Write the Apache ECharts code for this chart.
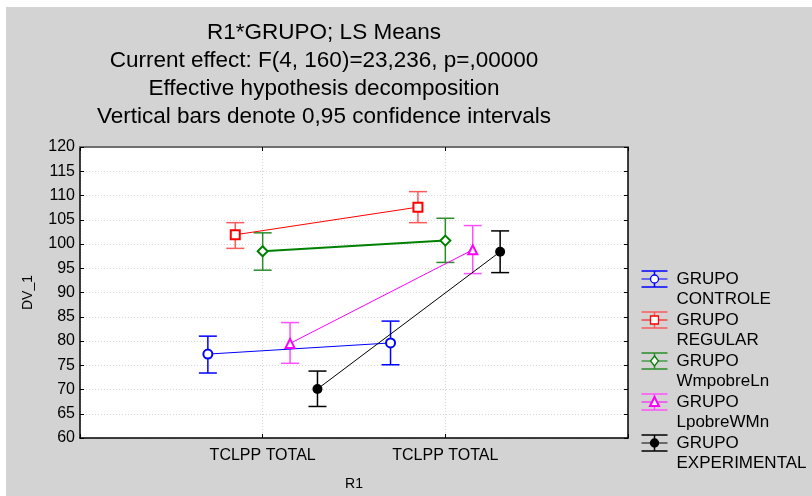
<!DOCTYPE html>
<html>
<head>
<meta charset="utf-8">
<script src="https://cdn.jsdelivr.net/npm/echarts@6/dist/echarts.min.js"></script>
<style>
  html, body { margin: 0; padding: 0; background: #fff; }
  #main { position: absolute; left: 6px; top: 7px; width: 806px; height: 489px; }
</style>
</head>
<body>
<div id="main"></div>
<script>
// dados
var categories = ['TCLPP TOTAL', 'TCLPP TOTAL'];
var groupNames = ['GRUPO\nCONTROLE', 'GRUPO\nREGULAR', 'GRUPO\nWmpobreLn', 'GRUPO\nLpobreWMn', 'GRUPO\nEXPERIMENTAL'];
var yTicks = [60, 120, 5]; // min, max, passo

var controleMean = [77.3, 79.6];
var controleLow = [73.4, 75.1];
var controleHigh = [81.0, 84.1];

var regularMean = [101.9, 107.6];
var regularLow = [99.1, 104.4];
var regularHigh = [104.4, 110.8];

var wmpobreMean = [98.5, 100.7];
var wmpobreLow = [94.6, 96.2];
var wmpobreHigh = [102.3, 105.3];

var lpobreMean = [79.5, 98.8];
var lpobreLow = [75.4, 93.9];
var lpobreHigh = [83.8, 103.8];

var experimentalMean = [70.1, 98.4];
var experimentalLow = [66.5, 94.1];
var experimentalHigh = [73.8, 102.7];

var means = [controleMean, regularMean, wmpobreMean, lpobreMean, experimentalMean];
var lows = [controleLow, regularLow, wmpobreLow, lpobreLow, experimentalLow];
var highs = [controleHigh, regularHigh, wmpobreHigh, lpobreHigh, experimentalHigh];

// estilo
var colors = ['#0000ff', '#ff0000', '#008000', '#ff00ff', '#000000'];
var barColors = ['#0000ff', '#ff5a5a', '#2a8c2a', '#ff50ff', '#000000'];
var symbols = ['emptyCircle', 'emptyRect', 'emptyDiamond', 'emptyTriangle', 'circle'];
var symbolSizes = [9, 9, 10, 9, 10];
var lineWidths = [1, 1, 2, 1, 1];
var offsets = [-0.3, -0.15, 0, 0.15, 0.3];
var font = 'Liberation Sans, Arial, sans-serif';

var series = [];
for (var g = 0; g < means.length; g++) {
    var pts = [], bars = [];
    for (var c = 0; c < categories.length; c++) {
        pts.push([c + 1 + offsets[g], means[g][c]]);
        bars.push([c + 1 + offsets[g], lows[g][c], highs[g][c]]);
    }
    series.push({
        type: 'custom',
        name: groupNames[g],
        data: bars,
        z: 3,
        silent: true,
        renderItem: (function (col) {
            return function (params, api) {
                var x = api.value(0);
                var p0 = api.coord([x, api.value(1)]);
                var p1 = api.coord([x, api.value(2)]);
                var st = { stroke: col, lineWidth: 1.5 };
                return {
                    type: 'group',
                    children: [
                        { type: 'line', shape: { x1: p0[0], y1: p0[1], x2: p1[0], y2: p1[1] }, style: st },
                        { type: 'line', shape: { x1: p0[0] - 9, y1: p0[1], x2: p0[0] + 9, y2: p0[1] }, style: st },
                        { type: 'line', shape: { x1: p1[0] - 9, y1: p1[1], x2: p1[0] + 9, y2: p1[1] }, style: st }
                    ]
                };
            };
        })(barColors[g])
    });
    series.push({
        type: 'line',
        name: groupNames[g],
        data: pts,
        z: 4,
        symbol: symbols[g],
        symbolSize: symbolSizes[g],
        showAllSymbol: true,
        animation: false,
        lineStyle: { color: colors[g], width: lineWidths[g] },
        itemStyle: { color: colors[g], borderWidth: g === 3 ? 2 : 1.3 }
    });
}

// legenda desenhada à mão (ícone de barra de erro + marcador)
var legend = [];
for (var i = 0; i < groupNames.length; i++) {
    var cx = 648.5, cy = 272 + 41 * i, col = colors[i];
    legend.push({ type: 'line', shape: { x1: cx - 13, y1: cy - 8, x2: cx + 13, y2: cy - 8 }, style: { stroke: barColors[i], lineWidth: 1.5 } });
    legend.push({ type: 'line', shape: { x1: cx - 13, y1: cy + 8, x2: cx + 13, y2: cy + 8 }, style: { stroke: barColors[i], lineWidth: 1.5 } });
    legend.push({ type: 'line', shape: { x1: cx, y1: cy - 8, x2: cx, y2: cy + 8 }, style: { stroke: barColors[i], lineWidth: 1.5 } });
    legend.push({ type: 'line', shape: { x1: cx - 13, y1: cy, x2: cx + 13, y2: cy }, style: { stroke: col, lineWidth: 1 } });
    var fill = i === 4 ? col : '#fff';
    var mk;
    if (i === 0 || i === 4) {
        mk = { type: 'circle', shape: { cx: cx, cy: cy, r: 4 } };
    } else if (i === 1) {
        mk = { type: 'rect', shape: { x: cx - 4, y: cy - 4, width: 8, height: 8 } };
    } else if (i === 2) {
        mk = { type: 'polygon', shape: { points: [[cx, cy - 5], [cx + 4, cy], [cx, cy + 5], [cx - 4, cy]] } };
    } else {
        mk = { type: 'polygon', shape: { points: [[cx, cy - 5], [cx + 4.5, cy + 4], [cx - 4.5, cy + 4]] } };
    }
    mk.style = { fill: fill, stroke: col, lineWidth: i === 3 ? 2 : 1.3 };
    legend.push(mk);
    legend.push({
        type: 'text', x: 670.5, y: cy - 10,
        style: { text: groupNames[i], font: '17px ' + font, fill: '#000', lineHeight: 20, verticalAlign: 'top' }
    });
}

var myChart = echarts.init(document.getElementById('main'));
myChart.setOption({
    backgroundColor: '#d3d3d3',
    animation: false,
    title: {
        text: 'R1*GRUPO; LS Means\nCurrent effect: F(4, 160)=23,236, p=,00000\nEffective hypothesis decomposition\nVertical bars denote 0,95 confidence intervals',
        left: 318,
        top: 12,
        textAlign: 'center',
        padding: 0,
        textStyle: { fontFamily: font, fontSize: 22.5, fontWeight: 'normal', color: '#000', lineHeight: 28 }
    },
    grid: { left: 74, top: 140, width: 548, height: 292, show: true, backgroundColor: '#fff', borderWidth: 0 },
    xAxis: [{
        type: 'value', min: 0, max: categories.length + 1, interval: 1,
        position: 'bottom',
        name: 'R1', nameLocation: 'middle', nameGap: 39,
        nameTextStyle: { fontFamily: font, fontSize: 14, color: '#000' },
        axisLine: { show: true, onZero: false, lineStyle: { color: '#000', width: 1.5 } },
        axisTick: { show: true, inside: true, length: 4, lineStyle: { color: '#000' } },
        axisLabel: {
            fontFamily: font, fontSize: 16, color: '#000', margin: 10,
            formatter: function (v) { return (v >= 1 && v <= categories.length) ? categories[v - 1] : ''; }
        },
        splitLine: { show: true, lineStyle: { color: '#d8d8d8', type: [1, 2] } }
    }, {
        type: 'value', min: 0, max: categories.length + 1, interval: 1,
        position: 'top',
        axisLine: { show: true, onZero: false, lineStyle: { color: '#707070', width: 2 } },
        axisTick: { show: true, inside: true, length: 4, lineStyle: { color: '#000' } },
        axisLabel: { show: false },
        splitLine: { show: false }
    }],
    yAxis: [{
        type: 'value', min: yTicks[0], max: yTicks[1], interval: yTicks[2],
        position: 'left',
        name: 'DV_1', nameLocation: 'middle', nameGap: 45,
        nameTextStyle: { fontFamily: font, fontSize: 14, color: '#000' },
        axisLine: { show: true, onZero: false, lineStyle: { color: '#000', width: 1.5 } },
        axisTick: { show: true, inside: true, length: 4, lineStyle: { color: '#000' } },
        axisLabel: { fontFamily: font, fontSize: 16, color: '#000', margin: 5 },
        splitLine: { show: true, lineStyle: { color: '#d8d8d8', type: [1, 2] } }
    }, {
        type: 'value', min: yTicks[0], max: yTicks[1], interval: yTicks[2],
        position: 'right',
        axisLine: { show: true, onZero: false, lineStyle: { color: '#000', width: 1.5 } },
        axisTick: { show: true, inside: true, length: 4, lineStyle: { color: '#000' } },
        axisLabel: { show: false },
        splitLine: { show: false }
    }],
    graphic: legend,
    series: series
});

window.addEventListener('resize', function () { myChart.resize(); });
</script>
</body>
</html>
